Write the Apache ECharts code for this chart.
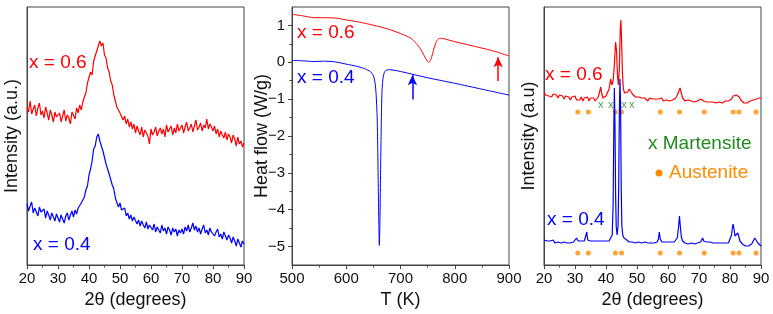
<!DOCTYPE html>
<html>
<head>
<meta charset="utf-8">
<script src="https://cdn.jsdelivr.net/npm/echarts@6/dist/echarts.min.js"></script>
<style>
html,body{margin:0;padding:0;background:#fff;}
#main{width:773px;height:314px;}
</style>
</head>
<body>
<div id="main"></div>
<script>
//left panel: as-spun XRD, 2theta every 0.5 deg
var xrdAngle = [
	20,20.5,21,21.5,22,22.5,23,23.5,24,24.5,25,25.5,26,26.5,27,27.5,28,28.5,29,29.5,
	30,30.5,31,31.5,32,32.5,33,33.5,34,34.5,35,35.5,36,36.5,37,37.5,38,38.5,39,39.5,
	40,40.5,41,41.5,42,42.5,43,43.5,44,44.5,45,45.5,46,46.5,47,47.5,48,48.5,49,49.5,
	50,50.5,51,51.5,52,52.5,53,53.5,54,54.5,55,55.5,56,56.5,57,57.5,58,58.5,59,59.5,
	60,60.5,61,61.5,62,62.5,63,63.5,64,64.5,65,65.5,66,66.5,67,67.5,68,68.5,69,69.5,
	70,70.5,71,71.5,72,72.5,73,73.5,74,74.5,75,75.5,76,76.5,77,77.5,78,78.5,79,79.5,
	80,80.5,81,81.5,82,82.5,83,83.5,84,84.5,85,85.5,86,86.5,87,87.5,88,88.5,89,89.5,90
];
var xrdRed06 = [
	158,153,164,151,156,160,149,157,162,150,154,147,158,152,145,155,150,143,153,148,
	146,152,143,149,155,144,150,147,141,153,151,146,157,152,160,155,163,168,172,182,
	181,193,190,204,203,214,213,224,219,222,210,207,197,193,184,180,170,168,158,160,
	152,154,145,149,141,146,138,143,136,141,132,139,134,130,138,128,135,133,129,121,
	136,130,133,138,129,134,137,131,136,128,140,133,135,139,130,137,132,141,134,136,
	140,132,138,143,134,137,141,133,139,145,135,138,142,134,140,137,146,136,141,138,
	134,139,131,136,128,134,130,127,133,125,131,128,122,130,126,119,128,121,124,118,122
];
var xrdBlue04 = [
	61,54,59,63,52,57,55,49,58,53,51,56,47,54,50,45,52,48,44,51,
	47,43,50,46,42,49,52,45,50,54,48,55,51,57,55,62,60,68,75,79,
	90,96,104,116,119,128,131,124,125,114,112,101,102,91,89,80,76,67,66,58,
	62,55,53,57,49,52,46,50,44,48,46,41,45,39,44,40,37,43,36,40,
	39,35,41,33,38,36,32,40,34,37,31,38,35,30,37,33,36,29,35,32,
	36,31,38,34,40,33,37,42,35,39,33,37,31,36,40,32,35,30,37,33,
	34,29,33,36,28,31,26,33,29,25,30,27,22,28,24,19,26,22,18,24,21
];

//middle panel: DSC heat flow
var dscTempRed = [500,520,540,560,580,600,620,640,660,680,700,710,720,728,734,739,743,747,750,752,754,757,760,763,766,769,772,776,780,800,820,840,860,880,900];
var dscFlowRed = [1.30,1.26,1.21,1.21,1.20,1.15,1.10,1.04,0.97,0.89,0.78,0.72,0.64,0.53,0.42,0.31,0.20,0.09,0.02,0.0,0.02,0.12,0.28,0.44,0.56,0.62,0.65,0.65,0.64,0.56,0.49,0.42,0.35,0.27,0.17];
var dscTempBlue = [500,520,540,560,580,600,620,635,645,650,653,655,657,658,659,660,661,662,663,664,665,666,668,671,675,680,700,750,800,850,900];
var dscFlowBlue = [0.05,0.04,0.02,0.03,0.01,-0.05,-0.11,-0.18,-0.26,-0.36,-0.55,-0.85,-1.5,-2.3,-3.3,-4.3,-4.97,-4.4,-3.3,-2.2,-1.3,-0.75,-0.4,-0.25,-0.21,-0.2,-0.25,-0.42,-0.57,-0.73,-0.89];
var arrowRed = [[880,-0.51],[880,0.14]];
var arrowBlue = [[722,-1.01],[722,-0.35]];
var dscFlowTicks = [-5,-4,-3,-2,-1,0,1];
var dscFlowMinor = [-4.5,-3.5,-2.5,-1.5,-0.5,0.5];

//right panel: annealed XRD, [2theta, intensity]
var annRed06 = [
	[20,173],[20.5,170],[21,172],[21.5,169],[22,171],[22.5,168],[23,171],[23.5,169],[24,170],[24.5,167],
	[25,170],[25.5,168],[26,169],[26.5,166],[27,169],[27.5,167],[28,168],[28.5,165],[29,168],[29.5,166],
	[30,169],[30.5,165],[31,167],[31.5,165],[32,168],[32.5,164],[33,167],[33.5,165],[34,168],[34.5,164],
	[35,167],[35.5,165],[36,167],[36.5,164],[37,166],[37.5,168],[38,174],[38.3,178],[38.6,172],[39,167],
	[39.5,168],[40,169],[40.5,171],[41,176],[41.5,186],[41.9,180],[42.3,184],[42.7,200],[43.1,223],[43.4,214],
	[43.7,190],[44.0,180],[44.3,196],[44.6,236],[44.8,245],[45.0,228],[45.3,192],[45.6,176],[46,172],[46.5,171],
	[47,173],[47.5,176],[48,175],[48.5,171],[49,169],[49.5,168],[50,167],[50.5,168],[51,166],[51.5,167],
	[52,165],[52.5,167],[53,166],[53.5,164],[54,167],[54.5,165],[55,166],[55.5,164],[56,166],[56.5,164],
	[57,166],[57.5,165],[58,167],[58.5,164],[59,166],[59.5,165],[60,166],[60.5,164],[61,166],[61.5,165],
	[62,166],[62.5,167],[63,170],[63.5,174],[63.9,177],[64.3,172],[64.7,167],[65,165],[65.5,164],[66,163],
	[66.5,165],[67,163],[67.5,164],[68,165],[68.5,163],[69,165],[69.5,164],[70,165],[70.5,166],[71,165],
	[71.5,164],[72,165],[72.5,163],[73,164],[73.5,163],[74,165],[74.5,163],[75,164],[75.5,162],[76,164],
	[76.5,163],[77,164],[77.5,162],[78,163],[78.5,164],[79,163],[79.5,164],[80,165],[80.5,166],[81,169],
	[81.5,171],[82,170],[82.5,171],[83,168],[83.5,165],[84,163],[84.5,162],[85,163],[85.5,162],[86,163],
	[86.5,164],[87,163],[87.5,165],[88,164],[88.5,166],[89,165],[89.5,167],[90,167]
];
var annBlue04 = [
	[20,25],[20.5,23],[21,24],[21.5,22],[22,24],[22.5,23],[23,25],[23.5,22],[24,24],[24.5,23],
	[25,24],[25.5,22],[26,24],[26.5,23],[27,24],[27.5,22],[28,23],[28.5,22],[29,24],[29.5,23],
	[30,24],[30.5,27],[31,24],[31.5,23],[32,24],[32.5,23],[33,24],[33.5,26],[33.8,33],[34.1,25],
	[34.5,23],[35,24],[35.5,22],[36,24],[36.5,23],[37,24],[37.5,22],[38,24],[38.5,23],[39,24],
	[39.5,22],[40,24],[40.5,23],[41,24],[41.5,25],[42,30],[42.3,60],[42.5,130],[42.7,177],[42.9,140],
	[43.1,70],[43.3,38],[43.6,30],[43.9,40],[44.1,80],[44.3,150],[44.5,186],[44.7,160],[44.9,80],[45.1,40],
	[45.4,30],[45.8,27],[46.2,26],[46.7,25],[47,24],[47.5,23],[48,25],[48.5,23],[49,24],[49.5,22],
	[50,24],[50.5,23],[51,24],[51.5,22],[52,24],[52.5,23],[53,24],[53.5,22],[54,23],[54.5,22],
	[55,24],[55.5,22],[56,24],[56.5,23],[56.9,26],[57.2,33],[57.5,26],[58,23],[58.5,22],[59,23],
	[59.5,22],[60,23],[60.5,22],[61,23],[61.5,22],[62,23],[62.5,24],[63,27],[63.4,38],[63.7,49],
	[64,38],[64.3,28],[64.7,24],[65,23],[65.5,22],[66,23],[66.5,21],[67,23],[67.5,22],[68,23],
	[68.5,21],[69,23],[69.5,22],[70,23],[70.5,23],[71,25],[71.2,27],[71.5,24],[72,22],[72.5,23],
	[73,22],[73.5,23],[74,21],[74.5,22],[75,21],[75.5,22],[76,21],[76.5,22],[77,21],[77.5,22],
	[78,21],[78.5,22],[79,21],[79.5,22],[80,24],[80.5,30],[80.8,38],[81,41],[81.3,36],[81.6,29],
	[81.9,27],[82.2,30],[82.5,32],[82.8,29],[83.2,24],[83.5,22],[84,21],[84.5,20],[85,19],[85.5,18],
	[86,19],[86.5,20],[87,21],[87.5,24],[88,27],[88.2,28],[88.5,26],[89,22],[89.5,20],[90,19]
];
//phase markers
var martensitePos = [38.3,41.5,45.8,48.3];
var martensiteRow = 160;
var austenitePos = [30.9,34.3,43.0,45.0,57.5,63.7,71.7,81.0,82.9,88.4];
var austeniteRows = [153,12];

var FONT = "'Liberation Sans', Arial, sans-serif";
var RED = '#ff0000', BLUE = '#0000ff', GREEN = '#1e8c1e', ORANGE = '#ff8c00';

function zip(xs, ys)
{
	var out = [];
	for (var i = 0; i < xs.length; i++) out.push([xs[i], ys[i]]);
	return out;
}

function xAxisOf(grid, min, max, interval)
{
	return {
		type:'value', gridIndex:grid, min:min, max:max, interval:interval,
		name: grid == 1 ? 'T (K)' : '2\u03b8 (degrees)',
		nameLocation:'middle', nameGap:26,
		nameTextStyle:{ fontFamily:FONT, fontSize:18, color:'#111' },
		axisLine:{ onZero:false, lineStyle:{ color:'#444', width:1 } },
		axisTick:{ length:4, lineStyle:{ color:'#444' } },
		minorTick:{ show:true, splitNumber:2, length:2.5, lineStyle:{ color:'#444' } },
		axisLabel:{ fontFamily:FONT, fontSize:15, color:'#111', margin:6 },
		splitLine:{ show:false }
	};
}

function textAt(x, y, text, color)
{
	return {
		type:'text', x:x, y:y,
		style:{ text:text, fill:color, font:'19px ' + FONT, verticalAlign:'middle' }
	};
}

var myChart = echarts.init(document.getElementById('main'));

var austeniteData = [];
for (var r = 0; r < austeniteRows.length; r++)
	for (var k = 0; k < austenitePos.length; k++)
		austeniteData.push([austenitePos[k], austeniteRows[r]]);
var martensiteData = martensitePos.map(function (p) { return [p, martensiteRow]; });

var option = {
	backgroundColor:'#fff',
	animation:false,
	grid:[
		{ left:27, right:529, top:7, bottom:49, show:true, borderColor:'#444', borderWidth:1 },
		{ left:292, right:264, top:7, bottom:49, show:true, borderColor:'#444', borderWidth:1 },
		{ left:544, right:12, top:7, bottom:49, show:true, borderColor:'#444', borderWidth:1 }
	],
	xAxis:[
		xAxisOf(0, 20, 90, 10),
		xAxisOf(1, 500, 900, 100),
		xAxisOf(2, 20, 90, 10)
	],
	yAxis:[
		{
			type:'value', gridIndex:0, min:0, max:258,
			name:'Intensity (a.u.)', nameLocation:'middle', nameGap:6,
			nameTextStyle:{ fontFamily:FONT, fontSize:18, color:'#111' },
			axisLine:{ show:true, onZero:false, lineStyle:{ color:'#444' } },
			axisTick:{ show:false }, axisLabel:{ show:false }, splitLine:{ show:false }
		},
		{
			type:'value', gridIndex:1, min:-5.5, max:1.5,
			name:'Heat flow (W/g)', nameLocation:'middle', nameGap:21, nameMoveOverlap:false,
			nameTextStyle:{ fontFamily:FONT, fontSize:18, color:'#111' },
			axisLine:{ show:true, onZero:false, lineStyle:{ color:'#444' } },
			axisTick:{ length:4, customValues:dscFlowTicks, lineStyle:{ color:'#444' } },
			axisLabel:{
				customValues:dscFlowTicks, fontFamily:FONT, fontSize:15, color:'#111', margin:7,
				formatter:function (v) { return String(v).replace('-', '\u2212'); }
			},
			splitLine:{ show:false }
		},
		{
			type:'value', gridIndex:2, min:0, max:258,
			name:'Intensity (a.u)', nameLocation:'middle', nameGap:6,
			nameTextStyle:{ fontFamily:FONT, fontSize:18, color:'#111' },
			axisLine:{ show:true, onZero:false, lineStyle:{ color:'#444' } },
			axisTick:{ show:false }, axisLabel:{ show:false }, splitLine:{ show:false }
		},
		//minor ticks of the heat-flow axis
		{
			type:'value', gridIndex:1, min:-5.5, max:1.5, position:'left',
			axisLine:{ show:false },
			axisTick:{ show:true, length:2.5, customValues:dscFlowMinor, lineStyle:{ color:'#444' } },
			axisLabel:{ show:false }, splitLine:{ show:false }
		}
	],
	series:[
		{ type:'line', xAxisIndex:0, yAxisIndex:0, data:zip(xrdAngle, xrdRed06), showSymbol:false, lineStyle:{ color:RED, width:1.2 } },
		{ type:'line', xAxisIndex:0, yAxisIndex:0, data:zip(xrdAngle, xrdBlue04), showSymbol:false, lineStyle:{ color:BLUE, width:1.2 } },
		{
			type:'line', xAxisIndex:1, yAxisIndex:1, data:zip(dscTempRed, dscFlowRed), showSymbol:false,
			smooth:0.2, lineStyle:{ color:RED, width:1 },
			markLine:{
				silent:true, symbol:['none','arrow'], symbolSize:[7,10],
				label:{ show:false }, lineStyle:{ color:RED, width:1.5, type:'solid' },
				data:[[{ coord:arrowRed[0] }, { coord:arrowRed[1] }]]
			}
		},
		{
			type:'line', xAxisIndex:1, yAxisIndex:1, data:zip(dscTempBlue, dscFlowBlue), showSymbol:false,
			smooth:0.2, lineStyle:{ color:BLUE, width:1 },
			markLine:{
				silent:true, symbol:['none','arrow'], symbolSize:[7,10],
				label:{ show:false }, lineStyle:{ color:BLUE, width:1.5, type:'solid' },
				data:[[{ coord:arrowBlue[0] }, { coord:arrowBlue[1] }]]
			}
		},
		{ type:'line', xAxisIndex:2, yAxisIndex:2, data:annRed06, showSymbol:false, lineStyle:{ color:RED, width:1.2 } },
		{ type:'line', xAxisIndex:2, yAxisIndex:2, data:annBlue04, showSymbol:false, lineStyle:{ color:BLUE, width:1.2 } },
		{
			type:'scatter', xAxisIndex:2, yAxisIndex:2, data:martensiteData,
			symbolSize:6, itemStyle:{ color:'rgba(0,0,0,0)' },
			label:{ show:true, position:'inside', formatter:'x', color:GREEN, fontFamily:FONT, fontSize:11 }
		},
		{
			type:'scatter', xAxisIndex:2, yAxisIndex:2, data:austeniteData,
			symbol:'circle', symbolSize:5, itemStyle:{ color:ORANGE }
		}
	],
	graphic:[
		textAt(29, 63, 'x = 0.6', RED),
		textAt(33, 245, 'x = 0.4', BLUE),
		textAt(297, 33, 'x = 0.6', RED),
		textAt(297, 78, 'x = 0.4', BLUE),
		textAt(545, 75, 'x = 0.6', RED),
		textAt(547, 220, 'x = 0.4', BLUE),
		textAt(648, 144, 'x Martensite', GREEN),
		{ type:'circle', shape:{ cx:659, cy:173, r:3.5 }, style:{ fill:ORANGE } },
		textAt(669, 173, 'Austenite', ORANGE)
	]
};

myChart.setOption(option);
</script>
</body>
</html>
